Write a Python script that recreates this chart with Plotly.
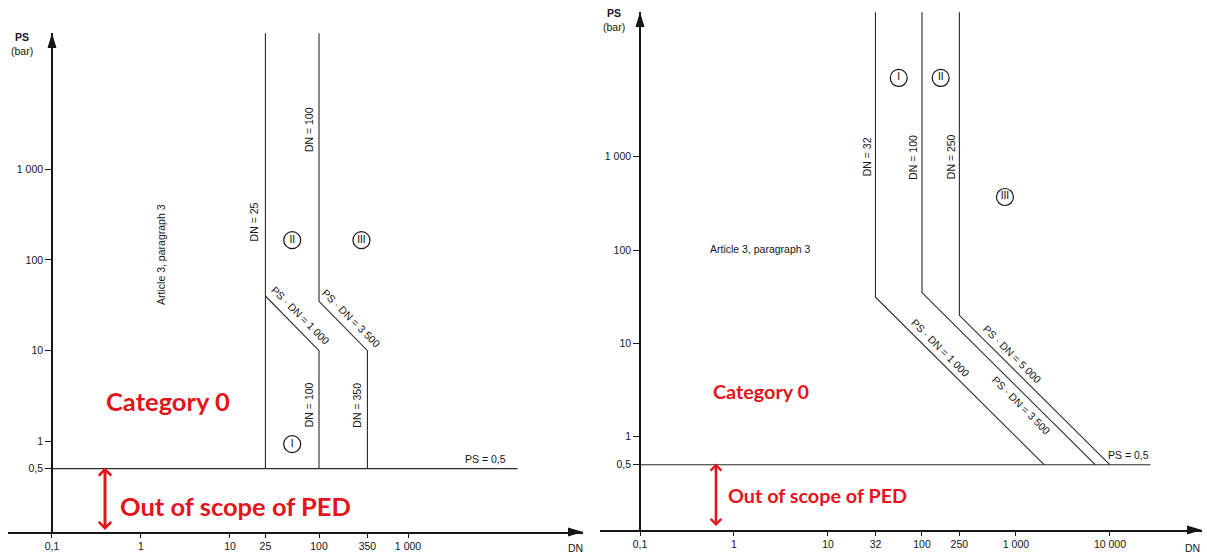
import numpy as np
import plotly.graph_objects as go

W, H = 1207, 556

# ---- values -------------------------------------------------------------
PS_MIN = 0.5                      # lower PS limit of both diagrams (bar)

# left diagram
LEFT_DN = [25, 100, 350]          # DN boundaries
LEFT_PSDN = [1000, 3500]          # PS·DN boundaries
LEFT_PS_TOP = 31600               # upper end of the drawn boundaries
LEFT_PS05_END = 17000             # right end of the PS = 0,5 line

# right diagram
RIGHT_DN = [32, 100, 250]
RIGHT_PSDN = [1000, 3500, 5000]
RIGHT_PS_TOP = 35500
RIGHT_PS05_END = 27000

LEFT_XTICKS = [0.1, 1, 10, 25, 100, 350, 1000]
RIGHT_XTICKS = [0.1, 1, 10, 32, 100, 250, 1000, 10000]
YTICKS = [0.5, 1, 10, 100, 1000]

FONT = "Liberation Sans, Arial, sans-serif"
RED_FONT = "Lato, Open Sans, sans-serif"
INK = "#161616"
RED = "#e3141b"


def fmt(v):
    """European style numbers: 0,5 and 1 000."""
    if v < 1:
        return f"{v:g}".replace(".", ",")
    return f"{int(v):,}".replace(",", " ")


def px(x):
    return x / W


def py(y):
    return 1 - y / H


fig = go.Figure()


def boundary(xs, ys, xa, ya):
    fig.add_trace(go.Scatter(
        x=xs, y=ys, xaxis=xa, yaxis=ya, mode="lines",
        line=dict(color="#2b2b2b", width=1.1),
        showlegend=False, hoverinfo="skip", cliponaxis=False))


# ---- left diagram boundaries --------------------------------------------
boundary([LEFT_DN[0], LEFT_DN[0]], [PS_MIN, LEFT_PS_TOP], "x", "y")
boundary([LEFT_DN[0], LEFT_DN[1], LEFT_DN[1]],
         [LEFT_PSDN[0] / LEFT_DN[0], LEFT_PSDN[0] / LEFT_DN[1], PS_MIN], "x", "y")
boundary([LEFT_DN[1], LEFT_DN[1], LEFT_DN[2], LEFT_DN[2]],
         [LEFT_PS_TOP, LEFT_PSDN[1] / LEFT_DN[1], LEFT_PSDN[1] / LEFT_DN[2], PS_MIN],
         "x", "y")
boundary([LEFT_XTICKS[0], LEFT_PS05_END], [PS_MIN, PS_MIN], "x", "y")

# ---- right diagram boundaries -------------------------------------------
for dn, k in zip(RIGHT_DN, RIGHT_PSDN):
    boundary([dn, dn, k / PS_MIN], [RIGHT_PS_TOP, k / dn, PS_MIN], "x2", "y2")
boundary([RIGHT_XTICKS[0], RIGHT_PS05_END], [PS_MIN, PS_MIN], "x2", "y2")

# ---- category circles ----------------------------------------------------
def circles(labels, dns, pss, xa, ya):
    fig.add_trace(go.Scatter(
        x=dns, y=pss, xaxis=xa, yaxis=ya, mode="markers+text",
        text=labels, textposition="middle center",
        textfont=dict(family=FONT, size=10, color="#000000"),
        marker=dict(symbol="circle-open", size=17, color=INK,
                    line=dict(width=1.2, color=INK)),
        showlegend=False, hoverinfo="skip", cliponaxis=False))


circles(["II", "III", "I"], [50, 300, 50], [165, 165, 0.93], "x", "y")
circles(["I", "II", "III"], [56.6, 158, 763], [7000, 7000, 371], "x2", "y2")

# ---- text ----------------------------------------------------------------
ann = []


def note(text, dn, ps, xa, ya, angle=0, size=10.5, xs=0, ys=0, **kw):
    ann.append(dict(text=text, x=np.log10(dn), y=np.log10(ps), xref=xa, yref=ya,
                    showarrow=False, textangle=angle, xshift=xs, yshift=ys,
                    font=dict(family=FONT, size=size, color=INK), **kw))


def paper_note(text, x, y, size, family=FONT, color=INK):
    ann.append(dict(text=text, x=px(x), y=py(y), xref="paper", yref="paper",
                    xanchor="center", yanchor="middle", showarrow=False,
                    font=dict(family=family, size=size, color=color)))


# left
note("Article 3, paragraph 3", 1.7, 115, "x", "y", angle=-90)
note(f"DN = {LEFT_DN[0]}", LEFT_DN[0], 262, "x", "y", angle=-90, xs=-11)
note(f"DN = {LEFT_DN[1]}", LEFT_DN[1], 2700, "x", "y", angle=-90, xs=-10)
note(f"DN = {LEFT_DN[1]}", LEFT_DN[1], 2.5, "x", "y", angle=-90, xs=-10)
note(f"DN = {LEFT_DN[2]}", LEFT_DN[2], 2.5, "x", "y", angle=-90, xs=-10)
for k, a, b in [(LEFT_PSDN[0], LEFT_DN[0], LEFT_DN[1]),
                (LEFT_PSDN[1], LEFT_DN[1], LEFT_DN[2])]:
    dn_mid = np.sqrt(a * b)
    note(f"PS · DN = {fmt(k)}", dn_mid, k / dn_mid, "x", "y", angle=45, xs=8, ys=8)
note(f"PS = {fmt(PS_MIN)}", LEFT_PS05_END, PS_MIN, "x", "y", xs=-10, ys=10,
     xanchor="right")

# right
note("Article 3, paragraph 3", 1.9, 103, "x2", "y2")
for dn in RIGHT_DN:
    note(f"DN = {dn}", dn, 1000, "x2", "y2", angle=-90, xs=-9)
# label heights along the slanted boundaries, and the side they sit on
for k, ps_at, side in [(RIGHT_PSDN[0], 7.5, 1), (RIGHT_PSDN[1], 2.6, -1),
                       (RIGHT_PSDN[2], 6.5, 1)]:
    note(f"PS · DN = {fmt(k)}", k / ps_at, ps_at, "x2", "y2", angle=45,
         xs=7 * side, ys=7 * side)
note(f"PS = {fmt(PS_MIN)}", RIGHT_PS05_END, PS_MIN, "x2", "y2", ys=10,
     xanchor="right")

# axis titles
paper_note("<b>PS</b><br>(bar)", 22, 44, 10.5)
paper_note("<b>PS</b><br>(bar)", 614, 20, 10.5)
paper_note("DN", 575, 548, 10.5)
paper_note("DN", 1192, 548, 10.5)

# red overlay
for (cx, cy), (ox, oy), size, (ax_x, y0, y1), aw in [
        ((168, 401), (235, 506), 25.5, (105, 466, 530), 3),
        ((761, 391), (817, 495), 19.8, (716, 462, 526), 2.6)]:
    paper_note("<b>Category 0</b>", cx, cy, size, RED_FONT, RED)
    paper_note("<b>Out of scope of PED</b>", ox, oy, size, RED_FONT, RED)
    ann.append(dict(text="", x=px(ax_x), y=py(y1), xref="paper", yref="paper",
                    ax=0, ay=y0 - y1, showarrow=True, arrowside="end+start",
                    arrowhead=4, arrowsize=0.8, arrowwidth=aw, arrowcolor=RED,
                    standoff=0, startstandoff=0))

# ---- axis arrowheads -----------------------------------------------------
def tri(pts):
    p = " L ".join(f"{px(a):.5f},{py(b):.5f}" for a, b in pts)
    return dict(type="path", xref="paper", yref="paper", path=f"M {p} Z",
                fillcolor=INK, line=dict(width=0))


shapes = [
    tri([(52, 33), (47.5, 48), (56.5, 48)]),
    tri([(583, 532), (568, 527.5), (568, 536.5)]),
    tri([(640, 12), (635.5, 27), (644.5, 27)]),
    tri([(1202, 530), (1187, 525.5), (1187, 534.5)]),
]

# ---- axes ----------------------------------------------------------------
axis_common = dict(type="log", showgrid=False, zeroline=False, showline=True,
                   linecolor=INK, linewidth=1.5, ticks="outside", tickcolor=INK,
                   tickwidth=1.1, tickfont=dict(family=FONT, size=10.5, color=INK))

fig.update_layout(
    width=W, height=H, margin=dict(l=0, r=0, t=0, b=0),
    paper_bgcolor="white", plot_bgcolor="rgba(0,0,0,0)",
    xaxis=dict(axis_common, domain=[px(8), px(583)], range=[-1.494, 4.966],
               anchor="y", tickvals=LEFT_XTICKS, ticktext=[fmt(v) for v in LEFT_XTICKS],
               ticklen=4),
    yaxis=dict(axis_common, domain=[py(532), py(33)], range=[-1, 4.502],
               anchor="free", position=px(52), tickvals=YTICKS,
               ticktext=[fmt(v) for v in YTICKS], ticklen=6),
    xaxis2=dict(axis_common, domain=[px(600), px(1202)], range=[-1.4255, 4.979],
                anchor="y2", tickvals=RIGHT_XTICKS,
                ticktext=[fmt(v) for v in RIGHT_XTICKS], ticklen=4),
    yaxis2=dict(axis_common, domain=[py(530), py(12)], range=[-1, 4.552],
                anchor="free", position=px(640), tickvals=YTICKS,
                ticktext=[fmt(v) for v in YTICKS], ticklen=6),
    annotations=ann,
    shapes=shapes,
)

fig.write_html("out.html")
